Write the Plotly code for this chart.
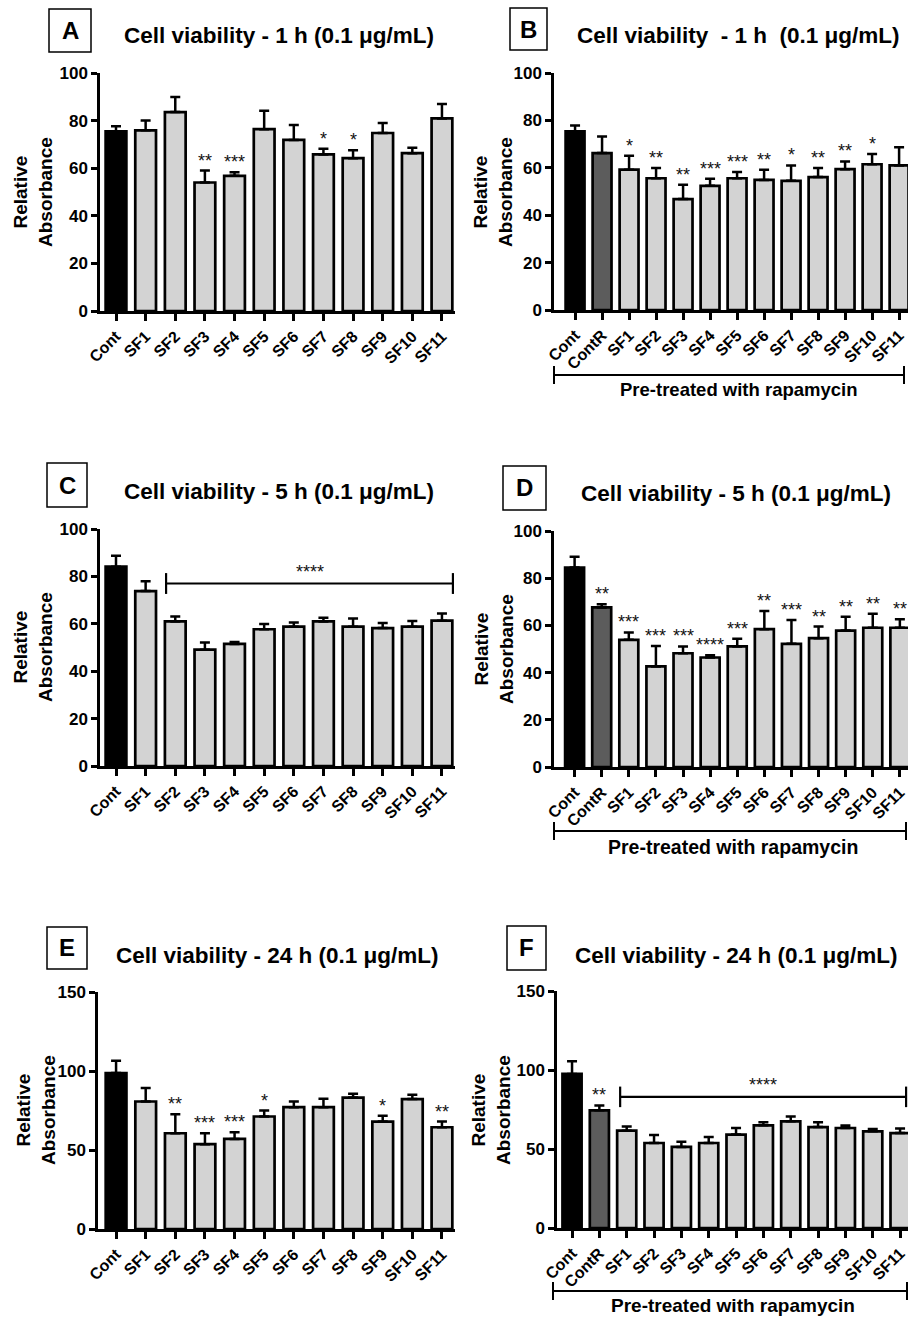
import plotly.graph_objects as go

W, H = 908, 1317
FONT = "Liberation Sans, Arial, sans-serif"

# ---------------- data ----------------
CATS_PLAIN = ["Cont", "SF1", "SF2", "SF3", "SF4", "SF5", "SF6", "SF7", "SF8", "SF9", "SF10", "SF11"]
CATS_RAPA = ["Cont", "ContR", "SF1", "SF2", "SF3", "SF4", "SF5", "SF6", "SF7", "SF8", "SF9", "SF10", "SF11"]

A_MEAN = [75.5, 75.9, 83.6, 54.0, 56.8, 76.4, 71.9, 65.8, 64.2, 74.8, 66.3, 80.9]
A_SEM = [2.1, 4.1, 6.3, 5.0, 1.5, 7.7, 6.2, 2.4, 3.3, 4.2, 2.3, 6.1]
A_SIG = ["", "", "", "**", "***", "", "", "*", "*", "", "", ""]

B_MEAN = [75.4, 66.2, 59.2, 55.6, 46.8, 52.4, 55.6, 54.9, 54.5, 56.1, 59.4, 61.5, 61.0]
B_SEM = [2.5, 7.0, 5.9, 4.3, 6.0, 3.0, 2.6, 4.3, 6.5, 3.8, 3.3, 4.3, 7.7]
B_SIG = ["", "", "*", "**", "**", "***", "***", "**", "*", "**", "**", "*", ""]

C_MEAN = [84.1, 73.8, 61.0, 49.1, 51.5, 57.7, 58.8, 61.0, 58.8, 58.2, 58.8, 61.3]
C_SEM = [4.6, 4.2, 2.1, 3.0, 0.8, 2.2, 1.7, 1.6, 3.4, 2.1, 2.4, 3.0]
C_SIG = [""] * 12

D_MEAN = [84.5, 67.6, 53.9, 42.6, 48.2, 46.4, 51.1, 58.4, 52.2, 54.6, 57.8, 59.0, 59.0]
D_SEM = [4.6, 1.4, 3.1, 8.7, 2.9, 1.0, 3.2, 7.7, 10.1, 4.9, 5.9, 5.9, 3.6]
D_SIG = ["", "**", "***", "***", "***", "****", "***", "**", "***", "**", "**", "**", "**"]

E_MEAN = [98.7, 80.7, 60.6, 53.7, 57.0, 71.2, 77.1, 77.1, 83.2, 68.0, 82.2, 64.4]
E_SEM = [7.8, 8.5, 12.1, 6.9, 4.3, 3.8, 3.6, 5.3, 2.4, 3.6, 2.7, 3.6]
E_SIG = ["", "", "**", "***", "***", "*", "", "", "", "*", "", "**"]

F_MEAN = [97.5, 74.5, 61.6, 53.8, 51.3, 53.8, 59.1, 65.0, 67.5, 63.9, 63.3, 61.2, 60.1]
F_SEM = [8.0, 3.1, 2.7, 5.1, 3.3, 3.8, 4.2, 1.9, 3.0, 3.0, 1.5, 1.5, 2.8]
F_SIG = ["", "**", "", "", "", "", "", "", "", "", "", "", ""]

# group significance brackets: (first category, last category, level, label)
C_GROUP = ("SF2", "SF11", 77, "****")
F_GROUP = ("SF1", "SF11", 83, "****")

TITLES = {
    "A": "Cell viability - 1 h (0.1 \u03bcg/mL)",
    "B": "Cell viability \u00a0- 1 h \u00a0(0.1 \u03bcg/mL)",
    "C": "Cell viability - 5 h (0.1 \u03bcg/mL)",
    "D": "Cell viability - 5 h (0.1 \u03bcg/mL)",
    "E": "Cell viability - 24 h (0.1 \u03bcg/mL)",
    "F": "Cell viability - 24 h (0.1 \u03bcg/mL)",
}
YTITLE = "Relative<br>Absorbance"
GROUP_LABEL = "Pre-treated with rapamycin"

COLOR_MAP = {"Cont": "#000000", "ContR": "#5c5c5c"}
LIGHT = "#d3d3d3"

# ---------------- layout of panels (pixel geometry) ----------------
PANELS = [
    dict(key="A", cats=CATS_PLAIN, mean=A_MEAN, sem=A_SEM, sig=A_SIG,
         xpx=(100, 455), ypx=(73, 311), xr=(-0.54, 11.44), ymax=100, dt=20,
         title=(279, 35), box=(49, 9, 91, 52), yt=(33, 192), group=None, rapa=None),
    dict(key="B", cats=CATS_RAPA, mean=B_MEAN, sem=B_SEM, sig=B_SIG,
         xpx=(554, 908), ypx=(73, 310), xr=(-0.78, 12.33), ymax=100, dt=20,
         title=(738, 36), box=(510, 8, 547, 50), yt=(493, 192), group=None,
         rapa=dict(x0=554, x1=904, y=375, ty=390, tx=739, fs=18.5)),
    dict(key="C", cats=CATS_PLAIN, mean=C_MEAN, sem=C_SEM, sig=C_SIG,
         xpx=(100, 455), ypx=(529, 766), xr=(-0.54, 11.44), ymax=100, dt=20,
         title=(279, 491), box=(47, 463, 87, 507), yt=(33, 647),
         group=dict(spec=C_GROUP, lo=-0.31, hi=0.37, cap=4.4), rapa=None),
    dict(key="D", cats=CATS_RAPA, mean=D_MEAN, sem=D_SEM, sig=D_SIG,
         xpx=(554, 908), ypx=(531, 767), xr=(-0.76, 12.3), ymax=100, dt=20,
         title=(736, 493), box=(503, 466, 546, 510), yt=(494, 649), group=None,
         rapa=dict(x0=554, x1=906, y=831, ty=847, tx=733, fs=19.5)),
    dict(key="E", cats=CATS_PLAIN, mean=E_MEAN, sem=E_SEM, sig=E_SIG,
         xpx=(98, 455), ypx=(992, 1229), xr=(-0.61, 11.44), ymax=150, dt=50,
         title=(277, 955), box=(47, 927, 87, 969), yt=(36, 1110), group=None, rapa=None),
    dict(key="F", cats=CATS_RAPA, mean=F_MEAN, sem=F_SEM, sig=F_SIG,
         xpx=(557, 908), ypx=(991, 1228), xr=(-0.55, 12.29), ymax=150, dt=50,
         title=(736, 955), box=(507, 926, 546, 970), yt=(491, 1110),
         group=dict(spec=F_GROUP, lo=-0.24, hi=0.22, cap=6.5),
         rapa=dict(x0=553, x1=907, y=1291, ty=1305, tx=733, fs=19)),
]


def px(x):
    return x / W


def py(y):
    return 1 - y / H


fig = go.Figure()
layout = dict(template="none", width=W, height=H, margin=dict(l=0, r=0, t=0, b=0, pad=0),
              paper_bgcolor="white", plot_bgcolor="white", showlegend=False,
              font=dict(family=FONT, color="black"))
annotations = []
shapes = []

for i, p in enumerate(PANELS, start=1):
    xa = "x" if i == 1 else f"x{i}"
    ya = "y" if i == 1 else f"y{i}"
    xname = "xaxis" if i == 1 else f"xaxis{i}"
    yname = "yaxis" if i == 1 else f"yaxis{i}"
    n = len(p["cats"])
    colors = [COLOR_MAP.get(c, LIGHT) for c in p["cats"]]
    fig.add_trace(go.Bar(
        x=p["cats"], y=p["mean"], xaxis=xa, yaxis=ya, width=0.7,
        marker=dict(color=colors, line=dict(color="black", width=2.7)),
        error_y=dict(type="data", symmetric=False, array=p["sem"], arrayminus=[0] * n,
                     color="black", thickness=2.5, width=5),
        hoverinfo="x+y",
    ))
    layout[xname] = dict(
        domain=[px(p["xpx"][0]), px(p["xpx"][1])], anchor=ya, type="category",
        range=list(p["xr"]), showline=True, linecolor="black", linewidth=2.5,
        ticks="outside", ticklen=7, tickwidth=2.5, tickcolor="black", automargin=False,
        tickangle=-45, showgrid=False, zeroline=False,
        tickfont=dict(family=FONT, size=16, color="black", weight="bold"),
    )
    layout[yname] = dict(
        domain=[py(p["ypx"][1]), py(p["ypx"][0])], anchor=xa, automargin=False,
        range=[0, p["ymax"]], dtick=p["dt"], tick0=0, showline=True, linecolor="black",
        linewidth=2.5, ticks="outside", ticklen=6, tickwidth=2.5, tickcolor="black",
        showgrid=False, zeroline=False,
        tickfont=dict(family=FONT, size=17, color="black", weight="bold"),
    )
    # significance stars per bar
    for c, m, s, g in zip(p["cats"], p["mean"], p["sem"], p["sig"]):
        if g:
            annotations.append(dict(x=c, y=m + s, xref=xa, yref=ya, text=g, showarrow=False,
                                    yanchor="bottom", yshift=-2,
                                    font=dict(family=FONT, size=18, color="#111")))
    # group bracket with stars
    if p["group"]:
        first, last, lvl, lab = p["group"]["spec"]
        x0 = p["cats"].index(first) + p["group"]["lo"]
        x1 = p["cats"].index(last) + p["group"]["hi"]
        cap = p["group"]["cap"]
        shapes.append(dict(type="line", xref=xa, yref=ya, x0=x0, x1=x1, y0=lvl, y1=lvl,
                           line=dict(color="black", width=2.2)))
        for xx in (x0, x1):
            shapes.append(dict(type="line", xref=xa, yref=ya, x0=xx, x1=xx, y0=lvl - cap, y1=lvl + cap,
                               line=dict(color="black", width=2.2)))
        annotations.append(dict(x=(x0 + x1) / 2, y=lvl, xref=xa, yref=ya, text=lab, showarrow=False,
                                yanchor="bottom", yshift=0,
                                font=dict(family=FONT, size=18, color="#111")))
    # rapamycin bracket under the axis
    if p["rapa"]:
        r = p["rapa"]
        shapes.append(dict(type="line", xref="paper", yref="paper", x0=px(r["x0"]), x1=px(r["x1"]),
                           y0=py(r["y"]), y1=py(r["y"]), line=dict(color="black", width=2)))
        for xx in (r["x0"], r["x1"]):
            shapes.append(dict(type="line", xref="paper", yref="paper", x0=px(xx), x1=px(xx),
                               y0=py(r["y"] - 9), y1=py(r["y"] + 9), line=dict(color="black", width=2)))
        annotations.append(dict(x=px(r["tx"]), y=py(r["ty"]), xref="paper", yref="paper",
                                text=GROUP_LABEL, showarrow=False, xanchor="center", yanchor="middle",
                                font=dict(family=FONT, size=r["fs"], color="black", weight="bold")))
    # title
    annotations.append(dict(x=px(p["title"][0]), y=py(p["title"][1]), xref="paper", yref="paper",
                            text=TITLES[p["key"]], showarrow=False, xanchor="center", yanchor="middle",
                            font=dict(family=FONT, size=22.5, color="black", weight="bold")))
    # panel letter box
    bx0, by0, bx1, by1 = p["box"]
    shapes.append(dict(type="rect", xref="paper", yref="paper", x0=px(bx0), x1=px(bx1),
                       y0=py(by1), y1=py(by0), line=dict(color="black", width=1.5)))
    annotations.append(dict(x=px((bx0 + bx1) / 2), y=py((by0 + by1) / 2), xref="paper", yref="paper",
                            text=p["key"], showarrow=False, xanchor="center", yanchor="middle",
                            font=dict(family=FONT, size=24, color="black", weight="bold")))
    # y-axis title
    annotations.append(dict(x=px(p["yt"][0]), y=py(p["yt"][1]), xref="paper", yref="paper",
                            text=YTITLE, showarrow=False, textangle=-90, xanchor="center",
                            yanchor="middle",
                            font=dict(family=FONT, size=19, color="black", weight="bold")))

layout["annotations"] = annotations
layout["shapes"] = shapes
fig.update_layout(**layout)
fig.write_html("out.html", config={"displayModeBar": False},
               post_script="document.body.style.margin='0';document.body.style.overflow='hidden';")
